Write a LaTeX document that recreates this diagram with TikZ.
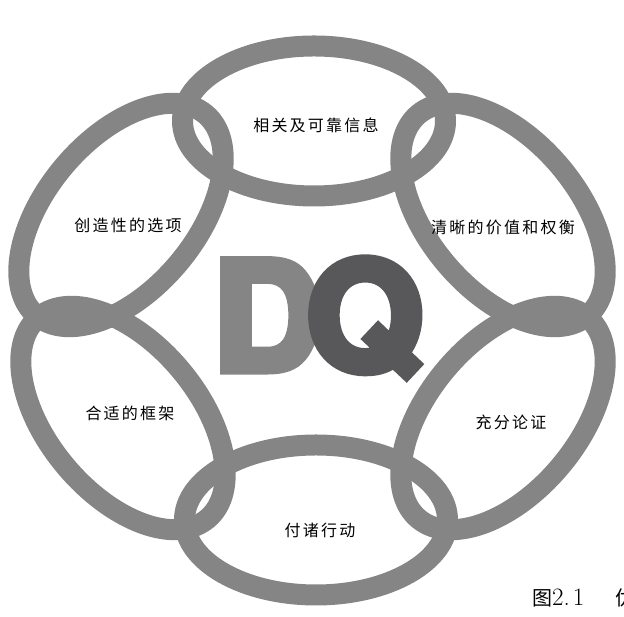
\documentclass[tikz,border=0pt]{standalone}
\usepackage{fontspec}
\usepackage{tikz}
\newfontfamily\cjk{Noto Sans CJK SC}[LetterSpace=14]
\newfontfamily\capcjk{Noto Sans CJK SC}
\newfontfamily\dqfont{TeX Gyre Heros}[FakeBold=6]
\definecolor{ringgray}{HTML}{858585}
\definecolor{qgray}{HTML}{58585A}
\tikzset{
  ring/.style={draw=ringgray, line width=21pt},
  lbl/.style={inner sep=0pt, font=\cjk\fontsize{16}{16}\selectfont},
  letter/.style={inner sep=0pt, anchor=base west, font=\dqfont\bfseries\fontsize{150}{150}\selectfont},
  capt/.style={inner sep=0pt, anchor=base west, font=\capcjk\fontsize{20}{20}\selectfont},
}

\begin{document}
\begin{tikzpicture}[x=1pt,y=1pt]
  \useasboundingbox (0,0) rectangle (624,617);

  % six linked rings
  \foreach \cx/\cy/\ang in {314/496/0, 316/97/0, 121/402/50, 503/402/-50, 123/199/-50, 503/199/50}
    \draw[ring, shift={(\cx,\cy)}, rotate=\ang] (0,0) ellipse [x radius=131.5, y radius=75];

  \node[letter, text=ringgray] (D) at (213,247) {D};
  \node[letter, text=qgray]    (Q) at (306,247) {Q};

  \node[lbl] (info)   at (316,492) {相关及可靠信息};
  \node[lbl] (alt)    at (128,392) {创造性的选项};
  \node[lbl] (values) at (503,390) {清晰的价值和权衡};
  \node[lbl] (reason) at (511,195) {充分论证};
  \node[lbl] (frame)  at (130,204) {合适的框架};
  \node[lbl] (commit) at (320,87)  {付诸行动};

  \node[capt] (fig) at (532,11) {图{\rmfamily\fontsize{25}{25}\selectfont 2.\kern3pt 1}};
  \node[capt] (rest) at (615,11) {优};
\end{tikzpicture}
\end{document}
